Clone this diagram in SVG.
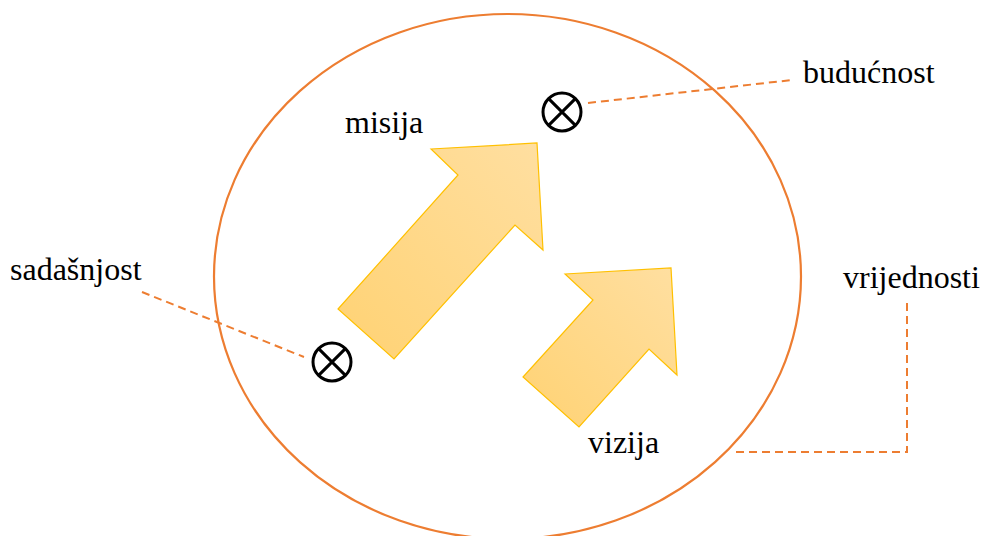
<svg xmlns="http://www.w3.org/2000/svg" width="982" height="536" viewBox="0 0 982 536">
<style>
.lbl{font-family:"Liberation Serif","Times New Roman",serif;font-size:32px;fill:#000}
.lead{fill:none;stroke:#ED7D31;stroke-width:2;stroke-dasharray:8 5}
.arrow{fill:url(#g);stroke:#FFC000;stroke-width:1.2;stroke-linejoin:miter}
.mark circle{fill:#fff;stroke:#000;stroke-width:3}
.mark path{stroke:#000;stroke-width:3}
</style>
<defs>
<linearGradient id="g" x1="0" y1="1" x2="1" y2="0">
<stop offset="0" stop-color="#FFD273"/>
<stop offset="1" stop-color="#FFDFA1"/>
</linearGradient>
</defs>
<rect width="982" height="536" fill="#fff"/>
<g id="ellipse"><ellipse cx="507.5" cy="276.5" rx="293.5" ry="262.5" fill="none" stroke="#ED7D31" stroke-width="2.2"/></g>
<g id="connectors">
<path class="lead" d="M588 103 L792 80"/>
<path class="lead" d="M142 292 L304 357"/>
<path class="lead" d="M907 303 L907 452 L731 452"/>
</g>
<g id="arrow-misija"><path class="arrow" d="M431 149 L537 143 L543 250 L515 225 L394 359 L338 309 L458 175 Z"/></g>
<g id="arrow-vizija"><path class="arrow" d="M565 274 L671 268 L677 375 L649 349 L579 427 L523 377 L593 300 Z"/></g>
<g id="buducnost-mark" class="mark"><circle cx="562" cy="112" r="19"/><path d="M548.6 98.6 L575.4 125.4 M575.4 98.6 L548.6 125.4"/></g>
<g id="sadasnjost-mark" class="mark"><circle cx="332" cy="362" r="19"/><path d="M318.6 348.6 L345.4 375.4 M345.4 348.6 L318.6 375.4"/></g>
<g id="labels">
<text class="lbl" x="803" y="83">budućnost</text>
<text class="lbl" x="10" y="280">sadašnjost</text>
<text class="lbl" x="345" y="133">misija</text>
<text class="lbl" x="843" y="288">vrijednosti</text>
<text class="lbl" x="588" y="453">vizija</text>
</g>
</svg>
